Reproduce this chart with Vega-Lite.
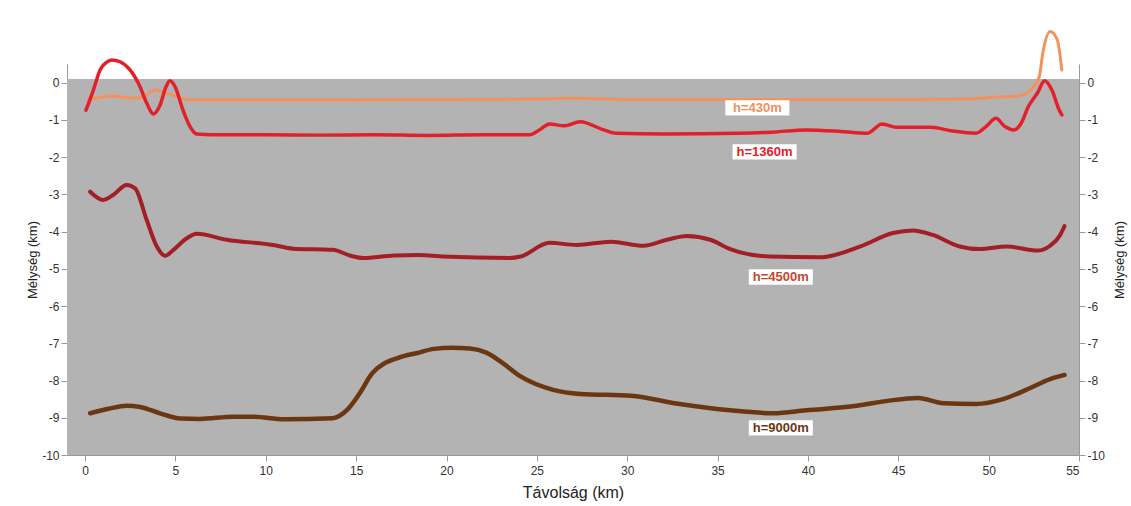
{
  "$schema": "https://vega.github.io/schema/vega-lite/v6.json",
  "width": 1012,
  "height": 391,
  "autosize": {"type": "none"},
  "padding": {"left": 67, "top": 64, "right": 52, "bottom": 51},
  "background": "white",
  "config": {
    "view": {"stroke": null},
    "font": "Liberation Sans",
    "axis": {"labelFontSize": 12, "labelColor": "#333", "domainColor": "#999", "tickColor": "#999", "tickSize": 6, "grid": false, "titleFontWeight": "normal", "titleColor": "#222", "labelExpr": "toString(datum.value)"}
  },
  "datasets": {
    "lines": [
      {"s": "h=430m", "x": 0.18, "y": -0.46}, {"s": "h=430m", "x": 0.8, "y": -0.4}, {"s": "h=430m", "x": 1.38, "y": -0.36}, {"s": "h=430m", "x": 2.0, "y": -0.38}, {"s": "h=430m", "x": 2.66, "y": -0.42}, {"s": "h=430m", "x": 3.3, "y": -0.36}, {"s": "h=430m", "x": 3.87, "y": -0.2}, {"s": "h=430m", "x": 4.2, "y": -0.24}, {"s": "h=430m", "x": 4.5, "y": -0.29}, {"s": "h=430m", "x": 5.0, "y": -0.36}, {"s": "h=430m", "x": 5.63, "y": -0.45}, {"s": "h=430m", "x": 7, "y": -0.46}, {"s": "h=430m", "x": 10, "y": -0.46}, {"s": "h=430m", "x": 15, "y": -0.46}, {"s": "h=430m", "x": 20, "y": -0.45}, {"s": "h=430m", "x": 25, "y": -0.44}, {"s": "h=430m", "x": 27, "y": -0.42}, {"s": "h=430m", "x": 30, "y": -0.45}, {"s": "h=430m", "x": 35, "y": -0.45}, {"s": "h=430m", "x": 40, "y": -0.45}, {"s": "h=430m", "x": 45, "y": -0.45}, {"s": "h=430m", "x": 49, "y": -0.44}, {"s": "h=430m", "x": 50.3, "y": -0.39}, {"s": "h=430m", "x": 51.7, "y": -0.36}, {"s": "h=430m", "x": 52.3, "y": -0.2}, {"s": "h=430m", "x": 52.8, "y": 0.16}, {"s": "h=430m", "x": 53.0, "y": 0.8}, {"s": "h=430m", "x": 53.4, "y": 1.37}, {"s": "h=430m", "x": 53.8, "y": 1.15}, {"s": "h=430m", "x": 54.05, "y": 0.34},

      {"s": "h=1360m", "x": 0.05, "y": -0.74}, {"s": "h=1360m", "x": 0.46, "y": -0.2}, {"s": "h=1360m", "x": 0.83, "y": 0.34}, {"s": "h=1360m", "x": 1.2, "y": 0.55}, {"s": "h=1360m", "x": 1.48, "y": 0.61}, {"s": "h=1360m", "x": 1.94, "y": 0.56}, {"s": "h=1360m", "x": 2.49, "y": 0.34}, {"s": "h=1360m", "x": 3.04, "y": -0.11}, {"s": "h=1360m", "x": 3.41, "y": -0.55}, {"s": "h=1360m", "x": 3.78, "y": -0.84}, {"s": "h=1360m", "x": 4.15, "y": -0.6}, {"s": "h=1360m", "x": 4.48, "y": -0.11}, {"s": "h=1360m", "x": 4.7, "y": 0.05}, {"s": "h=1360m", "x": 4.98, "y": -0.11}, {"s": "h=1360m", "x": 5.42, "y": -0.74}, {"s": "h=1360m", "x": 5.81, "y": -1.18}, {"s": "h=1360m", "x": 6.18, "y": -1.38}, {"s": "h=1360m", "x": 7, "y": -1.4}, {"s": "h=1360m", "x": 10, "y": -1.4}, {"s": "h=1360m", "x": 13, "y": -1.41}, {"s": "h=1360m", "x": 16, "y": -1.4}, {"s": "h=1360m", "x": 19, "y": -1.42}, {"s": "h=1360m", "x": 22, "y": -1.4}, {"s": "h=1360m", "x": 24.6, "y": -1.4}, {"s": "h=1360m", "x": 25.2, "y": -1.25}, {"s": "h=1360m", "x": 25.7, "y": -1.11}, {"s": "h=1360m", "x": 26.5, "y": -1.16}, {"s": "h=1360m", "x": 27.4, "y": -1.05}, {"s": "h=1360m", "x": 28.7, "y": -1.27}, {"s": "h=1360m", "x": 29.4, "y": -1.36}, {"s": "h=1360m", "x": 32, "y": -1.38}, {"s": "h=1360m", "x": 36.2, "y": -1.36}, {"s": "h=1360m", "x": 38, "y": -1.33}, {"s": "h=1360m", "x": 39.9, "y": -1.27}, {"s": "h=1360m", "x": 41.8, "y": -1.31}, {"s": "h=1360m", "x": 43.3, "y": -1.36}, {"s": "h=1360m", "x": 44.1, "y": -1.11}, {"s": "h=1360m", "x": 44.9, "y": -1.2}, {"s": "h=1360m", "x": 46.8, "y": -1.2}, {"s": "h=1360m", "x": 48.0, "y": -1.3}, {"s": "h=1360m", "x": 49.3, "y": -1.36}, {"s": "h=1360m", "x": 49.9, "y": -1.16}, {"s": "h=1360m", "x": 50.4, "y": -0.96}, {"s": "h=1360m", "x": 50.9, "y": -1.18}, {"s": "h=1360m", "x": 51.4, "y": -1.27}, {"s": "h=1360m", "x": 51.8, "y": -1.09}, {"s": "h=1360m", "x": 52.2, "y": -0.64}, {"s": "h=1360m", "x": 52.7, "y": -0.28}, {"s": "h=1360m", "x": 53.1, "y": 0.05}, {"s": "h=1360m", "x": 53.5, "y": -0.2}, {"s": "h=1360m", "x": 53.9, "y": -0.73}, {"s": "h=1360m", "x": 54.05, "y": -0.87},

      {"s": "h=4500m", "x": 0.28, "y": -2.93}, {"s": "h=4500m", "x": 1.0, "y": -3.15}, {"s": "h=4500m", "x": 1.57, "y": -3.01}, {"s": "h=4500m", "x": 2.3, "y": -2.75}, {"s": "h=4500m", "x": 2.77, "y": -2.84}, {"s": "h=4500m", "x": 3.41, "y": -3.69}, {"s": "h=4500m", "x": 3.97, "y": -4.4}, {"s": "h=4500m", "x": 4.43, "y": -4.65}, {"s": "h=4500m", "x": 4.89, "y": -4.49}, {"s": "h=4500m", "x": 5.63, "y": -4.18}, {"s": "h=4500m", "x": 6.18, "y": -4.06}, {"s": "h=4500m", "x": 7.84, "y": -4.22}, {"s": "h=4500m", "x": 10.4, "y": -4.36}, {"s": "h=4500m", "x": 11.5, "y": -4.46}, {"s": "h=4500m", "x": 13.7, "y": -4.49}, {"s": "h=4500m", "x": 14.7, "y": -4.65}, {"s": "h=4500m", "x": 15.4, "y": -4.71}, {"s": "h=4500m", "x": 17.1, "y": -4.64}, {"s": "h=4500m", "x": 18.5, "y": -4.63}, {"s": "h=4500m", "x": 19.8, "y": -4.67}, {"s": "h=4500m", "x": 23.5, "y": -4.71}, {"s": "h=4500m", "x": 24.1, "y": -4.67}, {"s": "h=4500m", "x": 25.7, "y": -4.3}, {"s": "h=4500m", "x": 27.2, "y": -4.36}, {"s": "h=4500m", "x": 29.1, "y": -4.27}, {"s": "h=4500m", "x": 30.9, "y": -4.38}, {"s": "h=4500m", "x": 32.2, "y": -4.22}, {"s": "h=4500m", "x": 33.3, "y": -4.12}, {"s": "h=4500m", "x": 34.6, "y": -4.22}, {"s": "h=4500m", "x": 35.7, "y": -4.47}, {"s": "h=4500m", "x": 37.9, "y": -4.67}, {"s": "h=4500m", "x": 40.7, "y": -4.69}, {"s": "h=4500m", "x": 42.9, "y": -4.4}, {"s": "h=4500m", "x": 44.7, "y": -4.04}, {"s": "h=4500m", "x": 45.8, "y": -3.97}, {"s": "h=4500m", "x": 46.9, "y": -4.09}, {"s": "h=4500m", "x": 48.4, "y": -4.4}, {"s": "h=4500m", "x": 49.5, "y": -4.47}, {"s": "h=4500m", "x": 51.0, "y": -4.4}, {"s": "h=4500m", "x": 52.7, "y": -4.51}, {"s": "h=4500m", "x": 53.4, "y": -4.38}, {"s": "h=4500m", "x": 53.96, "y": -4.09}, {"s": "h=4500m", "x": 54.2, "y": -3.85},

      {"s": "h=9000m", "x": 0.28, "y": -8.88}, {"s": "h=9000m", "x": 1.3, "y": -8.76}, {"s": "h=9000m", "x": 2.3, "y": -8.68}, {"s": "h=9000m", "x": 3.04, "y": -8.71}, {"s": "h=9000m", "x": 4.15, "y": -8.88}, {"s": "h=9000m", "x": 5.26, "y": -9.02}, {"s": "h=9000m", "x": 6.36, "y": -9.03}, {"s": "h=9000m", "x": 8.2, "y": -8.97}, {"s": "h=9000m", "x": 9.3, "y": -8.97}, {"s": "h=9000m", "x": 11.0, "y": -9.04}, {"s": "h=9000m", "x": 13.7, "y": -9.01}, {"s": "h=9000m", "x": 14.5, "y": -8.79}, {"s": "h=9000m", "x": 15.2, "y": -8.34}, {"s": "h=9000m", "x": 15.9, "y": -7.8}, {"s": "h=9000m", "x": 17.4, "y": -7.38}, {"s": "h=9000m", "x": 18.4, "y": -7.26}, {"s": "h=9000m", "x": 19.3, "y": -7.15}, {"s": "h=9000m", "x": 20.3, "y": -7.12}, {"s": "h=9000m", "x": 21.3, "y": -7.14}, {"s": "h=9000m", "x": 22.2, "y": -7.25}, {"s": "h=9000m", "x": 23.0, "y": -7.49}, {"s": "h=9000m", "x": 24.1, "y": -7.89}, {"s": "h=9000m", "x": 25.9, "y": -8.25}, {"s": "h=9000m", "x": 27.4, "y": -8.36}, {"s": "h=9000m", "x": 30.2, "y": -8.41}, {"s": "h=9000m", "x": 32.9, "y": -8.63}, {"s": "h=9000m", "x": 35.7, "y": -8.8}, {"s": "h=9000m", "x": 38.1, "y": -8.88}, {"s": "h=9000m", "x": 39.9, "y": -8.8}, {"s": "h=9000m", "x": 42.7, "y": -8.68}, {"s": "h=9000m", "x": 44.5, "y": -8.54}, {"s": "h=9000m", "x": 46.1, "y": -8.47}, {"s": "h=9000m", "x": 47.5, "y": -8.61}, {"s": "h=9000m", "x": 49.3, "y": -8.63}, {"s": "h=9000m", "x": 50.8, "y": -8.5}, {"s": "h=9000m", "x": 52.3, "y": -8.2}, {"s": "h=9000m", "x": 53.4, "y": -7.96}, {"s": "h=9000m", "x": 54.2, "y": -7.85}
    ],
    "labels": [
      {"s": "h=430m", "x": 37.2, "y": -0.68},
      {"s": "h=1360m", "x": 37.6, "y": -1.86},
      {"s": "h=4500m", "x": 38.5, "y": -5.22},
      {"s": "h=9000m", "x": 38.5, "y": -9.27}
    ],
    "plotarea": [
      {"x0": -1, "x1": 55, "y0": -10, "y1": 0.1}
    ]
  },
  "layer": [
    {
      "data": {"name": "plotarea"},
      "mark": {"type": "rect", "fill": "#b3b3b3", "opacity": 1},
      "encoding": {
        "x": {"field": "x0", "type": "quantitative", "scale": {"domain": [-1, 55], "nice": false, "zero": false},
          "axis": {"values": [0,5,10,15,20,25,30,35,40,45,50,55], "title": "Távolság (km)", "titleFontSize": 16, "titlePadding": 8, "labelPadding": 4}},
        "x2": {"field": "x1"},
        "y": {"field": "y0", "type": "quantitative", "scale": {"domain": [-10, 0.5], "nice": false, "zero": false},
          "axis": {"orient": "left", "values": [0,-1,-2,-3,-4,-5,-6,-7,-8,-9,-10], "title": "Mélység (km)", "titleFontSize": 13, "titlePadding": 2}},
        "y2": {"field": "y1"}
      }
    },
    {
      "data": {"name": "lines"},
      "mark": {"type": "line", "interpolate": "monotone", "clip": false, "strokeCap": "round", "strokeJoin": "round"},
      "encoding": {
        "x": {"field": "x", "type": "quantitative"},
        "y": {"field": "y", "type": "quantitative", "axis": null},
        "stroke": {"field": "s", "type": "nominal", "legend": null,
          "scale": {"domain": ["h=430m", "h=1360m", "h=4500m", "h=9000m"], "range": ["#f3925e", "#e3202a", "#a31f26", "#6b3712"]}},
        "strokeWidth": {"field": "s", "type": "nominal", "legend": null,
          "scale": {"domain": ["h=430m", "h=1360m", "h=4500m", "h=9000m"], "range": [3, 4.5, 3.5, 4]}},
        "order": {"field": "x", "type": "quantitative"}
      }
    },
    {
      "data": {"name": "labels"},
      "mark": {"type": "point", "shape": "M-1,-0.24H1V0.24H-1Z", "size": 4096, "filled": true, "fill": "white", "stroke": null, "opacity": 1},
      "encoding": {
        "x": {"field": "x", "type": "quantitative"},
        "y": {"field": "y", "type": "quantitative", "axis": null}
      }
    },
    {
      "data": {"name": "labels"},
      "mark": {"type": "text", "fontWeight": "bold", "fontSize": 13, "align": "center", "baseline": "middle"},
      "encoding": {
        "x": {"field": "x", "type": "quantitative"},
        "y": {"field": "y", "type": "quantitative", "axis": null},
        "text": {"field": "s"},
        "fill": {"field": "s", "type": "nominal", "legend": null,
          "scale": {"domain": ["h=430m", "h=1360m", "h=4500m", "h=9000m"], "range": ["#f09060", "#e3202a", "#c4472b", "#6b3712"]}}
      }
    },
    {
      "data": {"name": "plotarea"},
      "mark": {"type": "rule", "opacity": 0},
      "encoding": {
        "y": {"field": "y1", "type": "quantitative",
          "axis": {"orient": "right", "values": [0,-1,-2,-3,-4,-5,-6,-7,-8,-9,-10], "title": "Mélység (km)", "titleAngle": -90, "titleFontSize": 13, "titlePadding": 22}}
      }
    }
  ],
  "resolve": {"axis": {"y": "independent"}}
}
